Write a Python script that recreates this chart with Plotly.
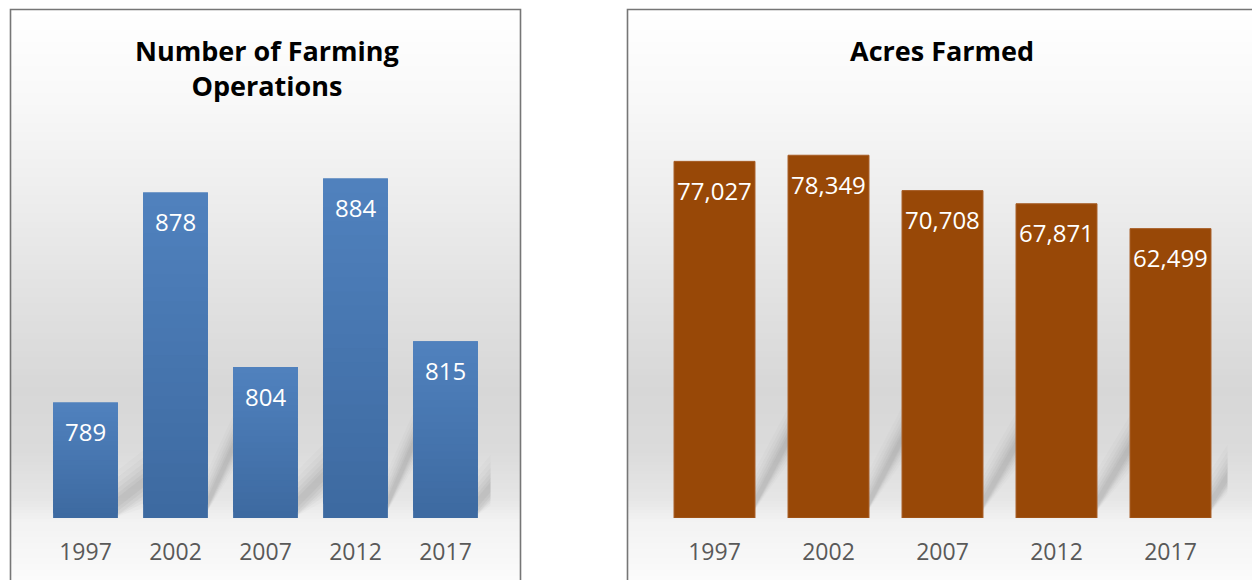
import plotly.graph_objects as go

# ---- data ----
years = ["1997", "2002", "2007", "2012", "2017"]
operations = [789, 878, 804, 884, 815]
acres = [77027, 78349, 70708, 67871, 62499]

ops_range = [740, 900]
acres_range = [0, 90000]

W, H = 1252, 580
FONT = "Open Sans"
TICK_COLOR = "#595959"


def px_x(x):
    return x / W


def px_y(y):
    return 1 - y / H


fig = go.Figure()

# panel geometry (pixels)
BASE_PX = 518
left_plot = dict(x0=40.5, x1=490.5, top=140.7)
right_plot = dict(x0=657.5, x1=1227.5, top=101.3)

fig.update_layout(
    width=W, height=H,
    margin=dict(l=0, r=0, t=0, b=0),
    paper_bgcolor="white",
    plot_bgcolor="rgba(0,0,0,0)",
    showlegend=False,
    barmode="overlay",
    font=dict(family=FONT),
    xaxis=dict(domain=[px_x(left_plot["x0"]), px_x(left_plot["x1"])], anchor="y",
               range=[-0.5, 4.5], tickvals=list(range(5)), ticktext=years,
               showgrid=False, zeroline=False, showline=False, ticks="",
               ticklabelstandoff=18,
               tickfont=dict(size=23, color=TICK_COLOR, family=FONT), fixedrange=True),
    yaxis=dict(domain=[px_y(BASE_PX), px_y(left_plot["top"])], anchor="x",
               range=ops_range, visible=False, fixedrange=True),
    xaxis2=dict(domain=[px_x(right_plot["x0"]), px_x(right_plot["x1"])], anchor="y2",
                range=[-0.5, 4.5], tickvals=list(range(5)), ticktext=years,
                showgrid=False, zeroline=False, showline=False, ticks="",
                ticklabelstandoff=18,
                tickfont=dict(size=23, color=TICK_COLOR, family=FONT), fixedrange=True),
    yaxis2=dict(domain=[px_y(BASE_PX), px_y(right_plot["top"])], anchor="x2",
                range=acres_range, visible=False, fixedrange=True),
)

shapes = []

# ---- panel backgrounds: vertical gray gradient ----
grad_stops = [(9, 255), (100, 248), (200, 237), (300, 225), (390, 215),
              (450, 219), (500, 230), (520, 242), (580, 251)]


def gray_at(y):
    for (ya, ga), (yb, gb) in zip(grad_stops, grad_stops[1:]):
        if ya <= y <= yb:
            t = (y - ya) / (yb - ya)
            return ga + (gb - ga) * t
    return grad_stops[-1][1]


panels = [(10.5, 520.5), (627.5, 1262)]
step = 3
for x0, x1 in panels:
    y = 9
    while y < H:
        g = round(gray_at(y + step / 2))
        shapes.append(dict(type="rect", xref="paper", yref="paper", layer="below",
                           x0=px_x(x0), x1=px_x(x1), y0=px_y(min(y + step + 0.5, H + 2)),
                           y1=px_y(y), line=dict(width=0),
                           fillcolor=f"rgb({g},{g},{g})"))
        y += step

# ---- soft diagonal shadows behind bars ----
def add_shadows(values, yrange, plot, bar_w, xref, yref):
    px_per_unit = (BASE_PX - plot["top"]) / (yrange[1] - yrange[0])
    base = yrange[0]
    layers = [(64, 0.025), (50, 0.03), (38, 0.04), (28, 0.045), (18, 0.05), (10, 0.05)]
    for i, v in enumerate(values):
        r = i + bar_w / 2
        xs, xe = r - 0.05, r + 0.45
        h = v - base
        y0 = base + 16 / px_per_unit
        y_s = y0 - 0.6 * h * 0.05
        y_e = y0 + 0.6 * h * 0.45
        for thick, op in layers:
            t = thick / 2 / px_per_unit
            lo_s = max(y_s - t, base)
            lo_e = max(y_e - t, base)
            path = (f"M {xs},{lo_s} L {xe},{lo_e} "
                    f"L {xe},{y_e + t} L {xs},{y_s + t} Z")
            shapes.append(dict(type="path", xref=xref, yref=yref, layer="below",
                               path=path, line=dict(width=0),
                               fillcolor=f"rgba(70,70,70,{op})"))


OPS_W, ACRES_W = 0.72, 0.71
add_shadows(operations, ops_range, left_plot, OPS_W, "x", "y")
add_shadows(acres, acres_range, right_plot, ACRES_W, "x2", "y2")

# ---- panel borders ----
for x0, x1 in panels:
    shapes.append(dict(type="rect", xref="paper", yref="paper", layer="above",
                       x0=px_x(x0), x1=px_x(x1), y0=px_y(H + 5), y1=px_y(9.5),
                       line=dict(color="#767676", width=1.6), fillcolor="rgba(0,0,0,0)"))

fig.update_layout(shapes=shapes)

# ---- left: blue bars with a top-to-bottom gradient (overlapping slices) ----
N = 24
top_rgb = (80, 130, 190)
bot_rgb = (61, 105, 160)
xs = list(range(len(years)))
for k in range(N):
    t = (k + 0.5) / N
    c = tuple(round(b + (a - b) * t) for a, b in zip(top_rgb, bot_rgb))
    col = f"rgb({c[0]},{c[1]},{c[2]})"
    bases = [ops_range[0] + (v - ops_range[0]) * k / N for v in operations]
    heights = [min((v - ops_range[0]) * 2 / N, v - b) for v, b in zip(operations, bases)]
    fig.add_trace(go.Bar(
        x=xs, y=heights, base=bases,
        width=OPS_W, marker=dict(color=col, line=dict(width=0)),
        xaxis="x", yaxis="y", hoverinfo="skip"))

# ---- right: brown bars ----
fig.add_trace(go.Bar(
    x=xs, y=acres, width=ACRES_W,
    marker=dict(color="#984807", line=dict(color="#a65c24", width=1)),
    xaxis="x2", yaxis="y2", hoverinfo="skip"))

# ---- value labels and titles ----
ann = []
for i, v in enumerate(operations):
    ann.append(dict(x=i, y=v, xref="x", yref="y", text=f"{v:,}", showarrow=False,
                    yanchor="middle", yshift=-29,
                    font=dict(size=24, color="white", family=FONT)))
for i, v in enumerate(acres):
    ann.append(dict(x=i, y=v, xref="x2", yref="y2", text=f"{v:,}", showarrow=False,
                    yanchor="middle", yshift=-29,
                    font=dict(size=24, color="white", family=FONT)))

ann.append(dict(x=px_x(267), y=px_y(68), xref="paper", yref="paper",
                text="<b>Number of Farming<br>Operations</b>", showarrow=False,
                xanchor="center", yanchor="middle",
                font=dict(size=27, color="black", family=FONT)))
ann.append(dict(x=px_x(942), y=px_y(50), xref="paper", yref="paper",
                text="<b>Acres Farmed</b>", showarrow=False,
                xanchor="center", yanchor="middle",
                font=dict(size=27, color="black", family=FONT)))
fig.update_layout(annotations=ann)

fig.write_html("out.html")
